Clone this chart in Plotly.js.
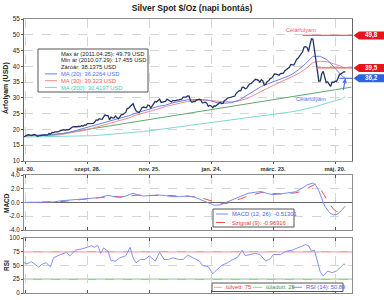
<!DOCTYPE html>
<html>
<head>
<meta charset="utf-8">
<script src="https://cdn.plot.ly/plotly-3.0.1.min.js"></script>
<style>
  html, body { margin: 0; padding: 0; background: #ffffff; }
  #chart { width: 384px; height: 300px; }
</style>
</head>
<body>
<div id="chart"></div>
<script>
// ---- Daily closing prices, USD/oz, one value per weekday session ----
const closeJul10 = [17.62, 18.01];
const closeAug10 = [18.20, 18.35, 18.20, 18.10, 18.30, 18.45, 18.25, 17.85, 17.95, 18.10,
                    18.10, 18.15, 18.30, 18.20, 18.25, 18.70, 18.60, 19.05, 19.00, 19.20,
                    19.15, 19.20];
const closeSep10 = [19.45, 19.70, 19.80, 19.90, 19.70, 19.95, 19.90, 20.10, 20.55, 20.85,
                    20.90, 20.80, 20.85, 21.00, 20.90, 21.20, 21.00, 21.45, 21.35, 21.85,
                    21.90, 21.80];
const closeOct10 = [22.00, 21.90, 22.35, 23.00, 22.90, 23.40, 23.25, 23.20, 24.00, 24.65,
                    24.40, 24.40, 23.05, 23.90, 23.70, 23.60, 24.25, 23.90, 23.35, 24.00,
                    24.70];
const closeNov10 = [24.70, 25.05, 25.40, 26.60, 26.75, 27.25, 27.90, 28.15, 26.85, 25.90,
                    25.60, 25.35, 26.00, 26.90, 27.10, 27.00, 26.85, 27.75, 27.60, 26.80,
                    27.45, 28.30];
const closeDec10 = [28.90, 28.70, 29.30, 29.60, 28.55, 28.60, 28.80, 28.90, 29.60, 29.40,
                    29.00, 28.70, 29.20, 29.05, 29.25, 29.30, 29.35, 29.40, 29.60, 30.25,
                    30.30, 30.25, 30.65];
const closeJan11 = [30.60, 29.05, 28.60, 28.85, 28.80, 29.30, 29.55, 29.60, 29.30, 28.45,
                    28.50, 28.65, 28.30, 27.35, 27.60, 27.45, 26.90, 27.50, 27.40, 27.90,
                    28.30];
const closeFeb11 = [28.60, 28.20, 28.25, 29.20, 29.40, 29.90, 30.00, 30.10, 30.30, 30.50,
                    30.60, 31.45, 32.00, 32.30, 32.25, 33.35, 33.40, 32.90, 33.05, 33.95];
const closeMar11 = [34.45, 34.50, 34.90, 35.45, 35.90, 35.80, 35.55, 35.00, 35.75, 35.40,
                    34.10, 34.40, 35.20, 35.40, 36.10, 36.30, 37.00, 37.60, 37.50, 37.35,
                    37.20, 37.70, 37.90];
const closeApr11 = [37.85, 38.60, 39.00, 39.30, 39.70, 40.60, 40.45, 40.40, 41.30, 42.30,
                    42.60, 43.30, 44.30, 44.60, 46.10, 46.20, 46.00, 44.70, 46.90, 48.70,
                    48.60];
const closeMay11 = [45.00, 42.30, 39.20, 35.30, 35.40, 37.70, 38.40, 36.10, 34.80, 35.10,
                    34.40, 33.60, 35.00, 34.90, 35.30, 35.20, 36.20, 37.40, 37.60, 38.00,
                    38.30, 38.1375];

// Period extremes (intraday)
const extremeLabels = ['Max ár (2011.04.25)', 'Min ár (2010.07.29)'];
const extremeValues = [49.79, 17.455];

// ---- Moving averages, sampled on Fridays (session numbers) ----
const ma20 = [17.95, 18.10, 18.15, 18.18, 18.37, 18.67, 19.12, 19.77, 20.32, 20.90,
              21.60, 22.38, 23.03, 23.60, 24.34, 25.17, 25.79, 26.58, 27.28, 27.70,
              28.45, 28.97, 29.39, 29.46, 29.48, 29.18, 28.48, 28.32, 28.49, 29.31,
              30.70, 32.24, 33.65, 34.54, 35.51, 36.25, 37.21, 38.84, 40.84, 43.18,
              43.18, 41.94, 39.37, 36.85, 36.2264];
const ma30 = [18.00, 18.00, 18.03, 18.06, 18.21, 18.45, 18.81, 19.23, 19.73, 20.33,
              20.96, 21.70, 22.34, 22.88, 23.64, 24.55, 25.13, 25.68, 26.48, 27.29,
              27.87, 28.21, 28.88, 29.21, 29.33, 29.19, 28.90, 28.78, 28.73, 29.10,
              29.72, 30.82, 32.18, 33.24, 34.40, 35.44, 36.52, 37.64, 39.19, 41.20,
              41.63, 41.43, 40.63, 39.88, 39.323];
const ma200 = [17.60, 17.63, 17.65, 17.66, 17.70, 17.75, 17.80, 17.85, 17.91, 18.02,
               18.16, 18.33, 18.49, 18.63, 18.81, 19.07, 19.34, 19.63, 19.94, 20.26,
               20.57, 20.88, 21.21, 21.51, 21.80, 22.06, 22.29, 22.55, 22.86, 23.18,
               23.50, 23.85, 24.15, 24.45, 24.80, 25.15, 25.55, 25.95, 26.45, 27.05,
               27.70, 28.35, 29.00, 29.75, 30.4197];

// Support trend line (session number, price)
const trendDay = [15, 222];
const trendVal = [17.9, 33.4];

// Price targets
const targetLevel = [49.8, 39.5, 36.2];
const targetFrom = ['2011-04-20', '2011-05-03', '2011-05-25'];

// ---- MACD (12, 26) and signal (9), by session number ----
const macdDay = [0, 10, 20, 25, 30, 36, 42, 46, 52, 57, 61, 65, 69, 74, 78, 81, 86, 91, 96, 101,
                 106, 111, 116, 121, 125, 129, 133, 137, 142, 147, 152, 157, 161, 165, 169, 174,
                 179, 184, 188, 192, 196, 198, 200, 202, 204, 206, 208, 210, 212, 214, 216, 218];
const macdVal = [0.00, 0.02, 0.08, 0.25, 0.32, 0.45, 0.55, 0.62, 0.75, 1.05, 0.85, 0.72, 0.95, 1.35,
                 1.05, 0.95, 1.00, 1.10, 1.00, 0.85, 0.85, 0.95, 0.75, 0.35, 0.00, -0.40, -0.35,
                 0.00, 0.50, 0.95, 1.35, 1.50, 1.60, 1.30, 1.15, 1.25, 1.35, 1.55, 2.00, 2.55,
                 2.85, 2.50, 1.70, 0.50, -0.50, -1.10, -1.60, -1.80, -1.75, -1.45, -1.05, -0.51301];
const signalVal = [0.00, 0.01, 0.04, 0.12, 0.25, 0.38, 0.48, 0.55, 0.65, 0.85, 0.90, 0.82, 0.85,
                   1.02, 1.10, 1.05, 1.00, 1.02, 1.03, 0.96, 0.90, 0.90, 0.85, 0.65, 0.40, 0.05,
                   -0.20, -0.15, 0.15, 0.55, 0.95, 1.25, 1.45, 1.45, 1.30, 1.25, 1.28, 1.40, 1.60,
                   2.00, 2.45, 2.70, 2.40, 1.75, 0.95, 0.20, -0.50, -1.00, -1.30, -1.35, -1.20,
                   -0.96916];

// ---- RSI (14), by session number ----
const rsiDay = [0, 2, 5, 10, 12, 15, 18, 20, 24, 29, 31, 35, 39, 43, 46, 48, 50, 52, 54, 57, 59,
                62, 65, 69, 72, 74, 76, 79, 82, 85, 89, 92, 95, 98, 101, 105, 108, 111, 113, 116,
                119, 121, 125, 128, 131, 134, 138, 141, 145, 148, 150, 153, 157, 160, 164, 167,
                169, 174, 178, 182, 187, 191, 193, 195, 197, 199, 201, 203, 206, 209, 212, 216,
                217, 218];
const rsiVal = [55, 53, 57, 47, 52, 55, 47.5, 64, 69, 74, 67.5, 78, 80, 83, 86, 83, 87, 72, 82,
                75.6, 59, 58, 64, 67.5, 83, 64, 55, 61, 61, 67.5, 58, 74, 61, 61, 64, 61, 61, 69,
                66, 61, 58, 50, 48, 35, 42, 50, 55, 60, 65, 78, 68, 70, 72, 70, 58, 62, 70, 70,
                76, 78, 83, 88, 86, 76, 78, 58, 38, 31, 40, 37, 40, 50, 53, 50.89];
const rsiBands = [75, 25];

// Axis ticks
const tickDays = ['2010-07-30', '2010-09-28', '2010-11-25', '2011-01-24', '2011-03-23', '2011-05-20'];
const tickText = ['júl. 30.', 'szept. 28.', 'nov. 25.', 'jan. 24.', 'márc. 23.', 'máj. 20.'];

// ------------------------------------------------------------------
const FONT = 'Liberation Sans, Arial, sans-serif';
const X_START = '2010-07-29';
const X_END = '2011-06-06 12:00';

function sessionDates(from, to) {
  const out = [];
  for (let t = Date.parse(from); t <= Date.parse(to); t += 86400000) {
    const d = new Date(t);
    const wd = d.getUTCDay();
    if (wd !== 0 && wd !== 6) out.push(d.toISOString().slice(0, 10));
  }
  return out;
}

const close = [].concat(closeJul10, closeAug10, closeSep10, closeOct10, closeNov10, closeDec10,
                        closeJan11, closeFeb11, closeMar11, closeApr11, closeMay11);
const days = sessionDates('2010-07-29', '2011-05-31');
const extDays = sessionDates('2010-07-29', '2011-06-10');
const last = a => a[a.length - 1];

// Friday sessions for the moving-average samples, plus the final session
const maDays = [];
for (let i = 1; i < days.length; i += 5) maDays.push(days[i]);
maDays.push(last(days));

// Layout geometry helpers (margins: l 24, r 32, t 19, b 7 on a 384x300 page)
const PL = 24, PW = 328, PB = 293, PH = 274;
const fx = px => (px - PL) / PW;
const fy = py => (PB - py) / PH;

const C = {
  price: '#22345f', ma20: '#6e7ff2', ma30: '#f08c8c', ma200: '#7fd9d2', trend: '#5ea86c',
  red: '#f25a5a', blue: '#5270ee', tagRed: '#e8141c', tagBlue: '#2f62e0',
  macd: '#7b8cf4', signal: '#ee4b4b', rsi: '#8393f4', over: '#f4a2a2', under: '#8fd38f',
  grid: '#d4d4d4', frame: '#8c8c8c'
};

const traces = [
  { x: [trendDay[0], trendDay[1]].map(i => extDays[i]), y: trendVal, mode: 'lines',
    line: { color: C.trend, width: 1 }, xaxis: 'x', yaxis: 'y', hoverinfo: 'skip' },
  { x: maDays, y: ma200, mode: 'lines', line: { color: C.ma200, width: 1 }, xaxis: 'x', yaxis: 'y' },
  { x: maDays, y: ma30, mode: 'lines', line: { color: C.ma30, width: 1 }, xaxis: 'x', yaxis: 'y' },
  { x: maDays, y: ma20, mode: 'lines', line: { color: C.ma20, width: 1 }, xaxis: 'x', yaxis: 'y' },
  { x: days, y: close, mode: 'lines', line: { color: C.price, width: 1.3 }, xaxis: 'x', yaxis: 'y' },
  { x: macdDay.map(i => days[i]), y: signalVal, mode: 'lines',
    line: { color: C.signal, width: 1, dash: 'dash' }, xaxis: 'x2', yaxis: 'y2' },
  { x: macdDay.map(i => days[i]), y: macdVal, mode: 'lines',
    line: { color: C.macd, width: 1 }, xaxis: 'x2', yaxis: 'y2' },
  { x: rsiDay.map(i => days[i]), y: rsiVal, mode: 'lines',
    line: { color: C.rsi, width: 1 }, xaxis: 'x3', yaxis: 'y3' }
];

// Target lines drawn as traces from their start date to the axis end
targetLevel.forEach((v, k) => {
  traces.push({ x: [targetFrom[k], X_END], y: [v, v], mode: 'lines',
    line: { color: k === 2 ? C.blue : C.red, width: 1.2 }, xaxis: 'x', yaxis: 'y' });
});

const xBase = {
  type: 'date', range: [X_START, X_END],
  rangebreaks: [{ bounds: ['sat', 'mon'] }],
  tickmode: 'array', tickvals: tickDays, ticktext: tickText,
  showgrid: true, gridcolor: C.grid, griddash: 'dash', gridwidth: 1,
  showline: true, linecolor: C.frame, linewidth: 1, zeroline: false,
  ticklen: 3, tickcolor: '#555', fixedrange: true
};
const yBase = {
  showgrid: true, gridcolor: C.grid, griddash: 'dash', gridwidth: 1,
  showline: true, linecolor: C.frame, linewidth: 1, mirror: true,
  ticks: 'outside', ticklen: 2, tickcolor: '#555', zeroline: false,
  tickfont: { family: FONT, size: 6.3, color: '#222' }, fixedrange: true
};

const macdTicks = [-4, -2, 0, 2, 4];
const rsiTicks = [0, 25, 50, 75, 100];

const layout = {
  width: 384, height: 300,
  margin: { l: PL, r: 32, t: 19, b: 7 },
  paper_bgcolor: '#ffffff', plot_bgcolor: '#ffffff',
  showlegend: false,
  font: { family: FONT, size: 6, color: '#222' },
  title: { text: 'Silver Spot $/Oz (napi bontás)', x: 0.5, xanchor: 'center',
           y: 1 - 8 / 300, yanchor: 'middle',
           font: { family: FONT, size: 8.5, weight: 'bold', color: '#222' } },
  xaxis: Object.assign({}, xBase, { anchor: 'y', ticks: 'outside', ticklen: 2, mirror: true,
           tickfont: { family: FONT, size: 5.8, weight: 'bold', color: '#333' } }),
  xaxis2: Object.assign({}, xBase, { anchor: 'y2', matches: 'x', ticks: 'inside', mirror: 'ticks',
           showticklabels: false }),
  xaxis3: Object.assign({}, xBase, { anchor: 'y3', matches: 'x', ticks: 'inside', mirror: 'ticks',
           showticklabels: false }),
  yaxis: Object.assign({}, yBase, { domain: [fy(161), 1], range: [10, 55], tick0: 10, dtick: 5,
           linecolor: '#666' }),
  yaxis2: Object.assign({}, yBase, { domain: [fy(230), fy(175)], range: [-4, 4],
           tickmode: 'array', tickvals: macdTicks, ticktext: macdTicks.map(v => v.toFixed(1)),
           zeroline: true, zerolinecolor: '#666', zerolinewidth: 1 }),
  yaxis3: Object.assign({}, yBase, { domain: [0, fy(238)], range: [0, 100],
           tickmode: 'array', tickvals: rsiTicks }),
  shapes: [],
  annotations: []
};

const S = layout.shapes, A = layout.annotations;
function label(x, y, text, color, extra) {
  A.push(Object.assign({ xref: 'paper', yref: 'paper', x: x, y: y, text: text, showarrow: false,
    xanchor: 'left', yanchor: 'middle',
    font: { family: FONT, size: 5.8, color: color } }, extra || {}));
}
function sample(x0, x1, y, color, dash) {
  S.push({ type: 'line', xref: 'paper', yref: 'paper', x0: x0, x1: x1, y0: y, y1: y,
    line: { color: color, width: 1, dash: dash || 'solid' }, layer: 'above' });
}
function box(x0, x1, y0, y1) {
  S.push({ type: 'rect', xref: 'paper', yref: 'paper', x0: x0, x1: x1, y0: y0, y1: y1,
    fillcolor: '#ffffff', line: { color: '#555', width: 1 }, layer: 'above' });
}

// Axis titles
function axisTitle(py, text, size) {
  A.push({ xref: 'paper', yref: 'paper', x: fx(6), y: fy(py), xanchor: 'center', yanchor: 'middle',
    text: text, textangle: -90, showarrow: false,
    font: { family: FONT, size: size, weight: 'bold', color: '#222' } });
}
axisTitle(88, 'Árfolyam (USD)', 7);
axisTitle(203, 'MACD', 6.5);
axisTitle(266, 'RSI', 6.5);

// Price panel info box
box(fx(38), fx(148), fy(92), fy(49));
const infoRows = [
  [extremeLabels[0] + ': ' + extremeValues[0] + ' USD', '#222', null],
  [extremeLabels[1] + ': ' + extremeValues[1] + ' USD', '#222', null],
  ['Záróár: ' + last(close) + ' USD', '#222', null],
  ['MA (20): ' + last(ma20) + ' USD', C.blue, C.ma20],
  ['MA (30): ' + last(ma30) + ' USD', C.red, C.ma30],
  ['MA (200): ' + last(ma200) + ' USD', '#4cc4bd', C.ma200]
];
infoRows.forEach((r, i) => {
  const y = fy(53.5 + i * 6.8);
  if (r[2]) sample(fx(45), fx(57), y, r[2]);
  label(fx(59), y, r[0], r[1]);
});

// MACD legend
box(fx(213), fx(294), fy(227), fy(209));
sample(fx(216), fx(228), fy(214), C.macd);
label(fx(229.5), fy(214), 'MACD (12, 26): ' + last(macdVal), '#4b5eea');
sample(fx(216), fx(228), fy(222.5), C.signal, 'dash');
label(fx(229.5), fy(222.5), 'Szignál (9): ' + last(signalVal), '#e03a3a');

// RSI bands and legend
S.push({ type: 'line', xref: 'paper', yref: 'y3', x0: 0, x1: 1, y0: rsiBands[0], y1: rsiBands[0],
  line: { color: C.over, width: 1.5 }, layer: 'below' });
S.push({ type: 'line', xref: 'paper', yref: 'y3', x0: 0, x1: 1, y0: rsiBands[1], y1: rsiBands[1],
  line: { color: C.under, width: 1.5 }, layer: 'below' });
box(fx(212), fx(343), fy(291.5), fy(283));
sample(fx(214), fx(222), fy(287.3), C.over);
label(fx(223.5), fy(287.3), 'túlvett: ' + rsiBands[0], '#e03a3a');
sample(fx(253), fx(262), fy(287.3), C.under);
label(fx(263.5), fy(287.3), 'túladott: ' + rsiBands[1], '#3a9a3a');
sample(fx(292), fx(302), fy(287.3), C.rsi);
label(fx(304), fy(287.3), 'RSI (14): ' + last(rsiVal), '#4b5eea');

// Target captions
A.push({ xref: 'paper', yref: 'y', x: fx(318), y: targetLevel[0], yanchor: 'bottom', yshift: 0.5,
  text: 'Célárfolyam', showarrow: false, font: { family: FONT, size: 5.6, color: C.red } });
A.push({ xref: 'paper', yref: 'paper', x: fx(328), y: fy(98.5), yanchor: 'middle',
  text: 'Célárfolyam', showarrow: false, font: { family: FONT, size: 5.6, color: C.blue } });
A.push({ xref: 'paper', yref: 'y', x: fx(345.5), y: targetLevel[2], text: '', showarrow: true,
  ax: -2.5, ay: 13, arrowcolor: C.blue, arrowwidth: 1.2, arrowhead: 2, arrowsize: 0.8 });

// Value tags on the right edge
targetLevel.forEach((v, k) => {
  const col = k === 2 ? C.tagBlue : C.tagRed;
  S.push({ type: 'path', xref: 'paper', yref: 'y', ysizemode: 'pixel', yanchor: v,
    path: 'M ' + fx(353.5) + ',0 L ' + fx(359) + ',4 L ' + fx(384) + ',4 L ' + fx(384) +
          ',-4 L ' + fx(359) + ',-4 Z',
    fillcolor: col, line: { width: 0 }, layer: 'above' });
  A.push({ xref: 'paper', yref: 'y', x: fx(371.5), y: v, xanchor: 'center', yanchor: 'middle',
    text: v.toFixed(1).replace('.', ','), showarrow: false,
    font: { family: FONT, size: 6.3, weight: 'bold', color: '#ffffff' } });
});

Plotly.newPlot('chart', traces, layout, { staticPlot: true, displayModeBar: false });
</script>
</body>
</html>
